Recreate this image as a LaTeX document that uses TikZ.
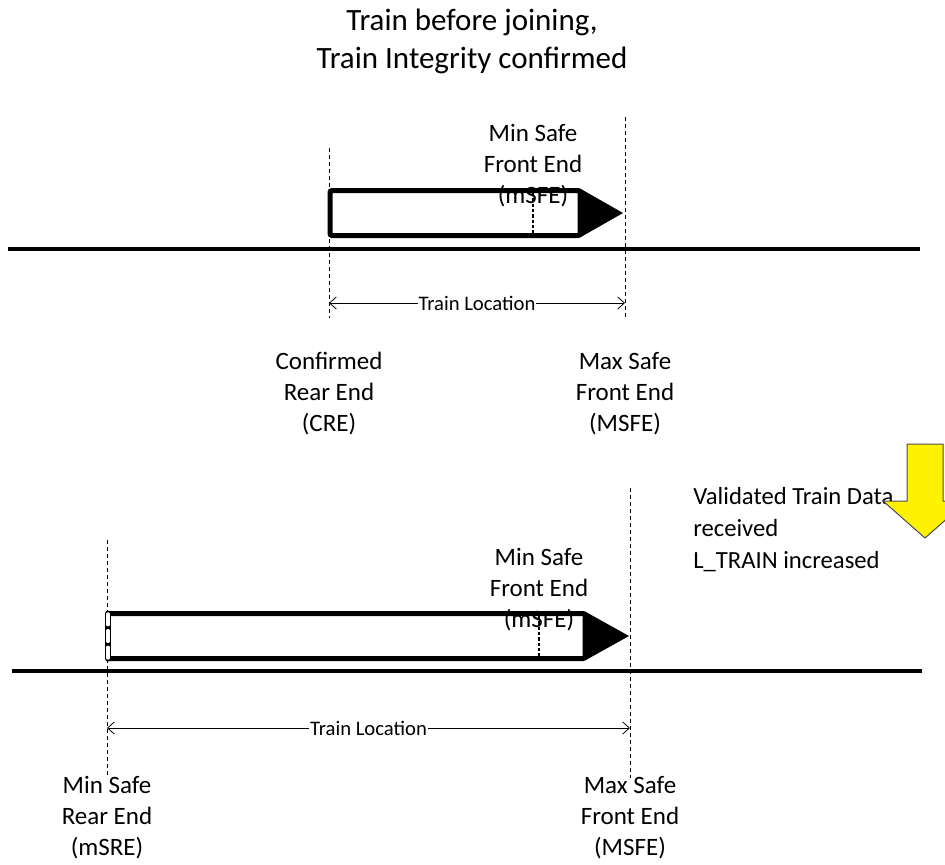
\documentclass[tikz,border=0pt]{standalone}
\usepackage{fontspec}
\setmainfont{Carlito}
\usetikzlibrary{arrows.meta}

\tikzset{
  guide/.style={line width=0.75pt, dash pattern=on 3pt off 2.25pt},
  track/.style={line width=3.4pt},
  trainbody/.style={line width=3.75pt, rounded corners=1.5pt},
  msfeline/.style={line width=1.5pt, dash pattern=on 2.5pt off 1.5pt},
  dim/.style={line width=0.6pt, {Straight Barb[length=5pt,width=9pt]}-{Straight Barb[length=5pt,width=9pt]}},
  dimlabel/.style={fill=white, inner sep=0.5pt, font=\fontsize{15.5}{17}\selectfont},
  lbl/.style={align=center, inner sep=0pt, font=\fontsize{18.75}{23.25}\selectfont},
  titlelbl/.style={align=center, inner sep=0pt, font=\fontsize{23.25}{28.5}\selectfont},
  notelbl/.style={align=left, anchor=west, inner sep=0pt, font=\fontsize{18.5}{24}\selectfont},
}

\begin{document}
\begin{tikzpicture}[x=0.75pt, y=-0.75pt]
  \useasboundingbox (0,0) rectangle (945,864);

  \node[titlelbl] (title) at (472,41) {Train before joining,\\Train Integrity confirmed};

  % before joining
  \coordinate (creTop) at (329,148);
  \coordinate (creBot) at (329,318);
  \coordinate (msfeTop) at (625,117);
  \coordinate (msfeBot) at (625,318);
  \draw[guide] (creTop) -- (creBot);
  \draw[guide] (msfeTop) -- (msfeBot);
  \draw[track] (8,249) -- (920,249);
  \draw[trainbody] (580,190.5) -- (330,190.5) -- (330,235.5) -- (580,235.5) -- cycle;
  \fill (580,188.5) -- (623,213) -- (580,237.5) -- cycle;
  \draw[msfeline] (533,193) -- (533,233);
  \coordinate (creDim) at (329,303);
  \coordinate (msfeDim) at (625,303);
  \draw[dim] (creDim) -- node[dimlabel] (loc1) {Train Location} (msfeDim);
  \node[lbl] (msfe1) at (533,166) {Min Safe\\Front End\\(mSFE)};
  \node[lbl] (cre) at (329,394) {Confirmed\\Rear End\\(CRE)};
  \node[lbl] (MSFE1) at (625,394) {Max Safe\\Front End\\(MSFE)};

  % data received
  \node[notelbl] (note) at (693,530) {Validated Train Data\\received\\L\_TRAIN increased};
  \draw[fill=yellow, draw=black!70, line width=0.75pt]
    (907,444) -- (943,444) -- (943,501) -- (967,501) -- (925,538) -- (883,501) -- (907,501) -- cycle;

  % after joining
  \coordinate (msreTop) at (107,540);
  \coordinate (msreBot) at (107,778);
  \coordinate (msfeTopB) at (630,488);
  \coordinate (msfeBotB) at (630,778);
  \draw[guide] (msreTop) -- (msreBot);
  \draw[guide] (msfeTopB) -- (msfeBotB);
  \draw[track] (12,671) -- (922,671);
  \draw[trainbody] (108,613.5) -- (585,613.5) -- (585,658.5) -- (108,658.5);
  \draw[line width=4.5pt, line cap=round] (108,613.5) -- (108,658.5);
  \draw[white, line width=2.6pt, line cap=round, dash pattern=on 8pt off 4.5pt] (108,614) -- (108,658);
  \fill (585,611.5) -- (629,636) -- (585,660.5) -- cycle;
  \draw[msfeline] (539,616) -- (539,656);
  \coordinate (msreDim) at (107,728);
  \coordinate (msfeDimB) at (630,728);
  \draw[dim] (msreDim) -- node[dimlabel] (loc2) {Train Location} (msfeDimB);
  \node[lbl] (msfe2) at (539,590) {Min Safe\\Front End\\(mSFE)};
  \node[lbl] (msre) at (107,818) {Min Safe\\Rear End\\(mSRE)};
  \node[lbl] (MSFE2) at (630,818) {Max Safe\\Front End\\(MSFE)};
\end{tikzpicture}
\end{document}
